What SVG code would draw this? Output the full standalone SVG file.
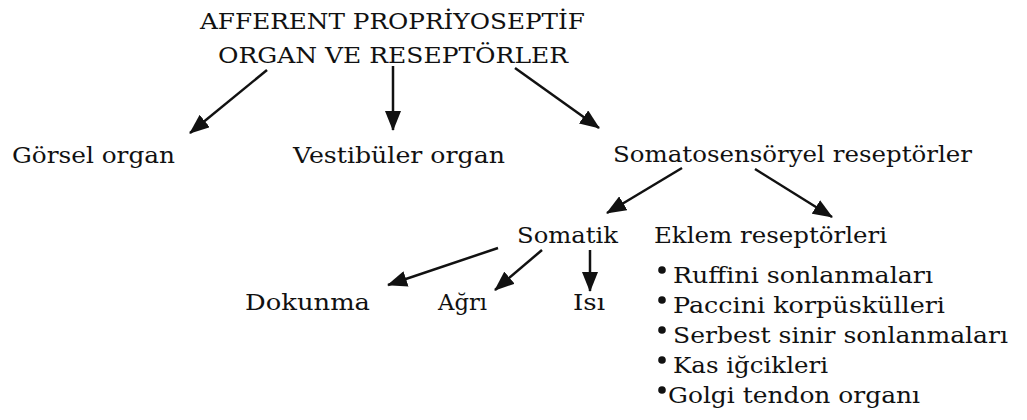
<svg xmlns="http://www.w3.org/2000/svg" width="1027" height="420" viewBox="0 0 1027 420">
<style>
text{font-family:"DejaVu Serif","Liberation Serif",serif;font-size:23px;fill:#111}
.c line{stroke:#111;stroke-width:2.5}
</style>
<defs>
<marker id="ah" markerUnits="userSpaceOnUse" markerWidth="20" markerHeight="16" refX="19" refY="8" orient="auto">
<path d="M0,0 L20,8 L0,16 z" fill="#111"/>
</marker>
</defs>
<rect width="1027" height="420" fill="#fff"/>
<g class="c" id="connectors">
<line x1="267" y1="70" x2="190" y2="133" marker-end="url(#ah)"/>
<line x1="393" y1="66" x2="393" y2="130" marker-end="url(#ah)"/>
<line x1="515" y1="68" x2="599" y2="128" marker-end="url(#ah)"/>
<line x1="682" y1="168" x2="607" y2="213" marker-end="url(#ah)"/>
<line x1="755" y1="169" x2="832" y2="217" marker-end="url(#ah)"/>
<line x1="498" y1="248" x2="388" y2="285" marker-end="url(#ah)"/>
<line x1="542" y1="250" x2="495" y2="290" marker-end="url(#ah)"/>
<line x1="590" y1="250" x2="590" y2="291" marker-end="url(#ah)"/>
</g>
<g id="root">
<text x="200" y="29" textLength="385" lengthAdjust="spacingAndGlyphs">AFFERENT PROPRİYOSEPTİF</text>
<text x="218" y="63" textLength="350" lengthAdjust="spacingAndGlyphs">ORGAN VE RESEPTÖRLER</text>
</g>
<g id="gorsel"><text x="12" y="163" textLength="163" lengthAdjust="spacingAndGlyphs">Görsel organ</text></g>
<g id="vestibuler"><text x="293" y="163" textLength="212" lengthAdjust="spacingAndGlyphs">Vestibüler organ</text></g>
<g id="somatosensoryel"><text x="613" y="162" textLength="359" lengthAdjust="spacingAndGlyphs">Somatosensöryel reseptörler</text></g>
<g id="somatik"><text x="517" y="243" textLength="101" lengthAdjust="spacingAndGlyphs">Somatik</text></g>
<g id="eklem">
<text x="654" y="243" textLength="233" lengthAdjust="spacingAndGlyphs">Eklem reseptörleri</text>
<circle cx="662" cy="270" r="3.8" fill="#111"/>
<text x="673" y="283" textLength="260" lengthAdjust="spacingAndGlyphs">Ruffini sonlanmaları</text>
<circle cx="662" cy="300" r="3.8" fill="#111"/>
<text x="673" y="313" textLength="272" lengthAdjust="spacingAndGlyphs">Paccini korpüskülleri</text>
<circle cx="662" cy="330" r="3.8" fill="#111"/>
<text x="673" y="343" textLength="335" lengthAdjust="spacingAndGlyphs">Serbest sinir sonlanmaları</text>
<circle cx="662" cy="360" r="3.8" fill="#111"/>
<text x="673" y="373" textLength="155" lengthAdjust="spacingAndGlyphs">Kas iğcikleri</text>
<circle cx="662" cy="390" r="3.8" fill="#111"/>
<text x="668" y="403" textLength="252" lengthAdjust="spacingAndGlyphs">Golgi tendon organı</text>
</g>
<g id="dokunma"><text x="245" y="310" textLength="125" lengthAdjust="spacingAndGlyphs">Dokunma</text></g>
<g id="agri"><text x="438" y="310" textLength="49" lengthAdjust="spacingAndGlyphs">Ağrı</text></g>
<g id="isi"><text x="573" y="310" textLength="32" lengthAdjust="spacingAndGlyphs">Isı</text></g>
</svg>
